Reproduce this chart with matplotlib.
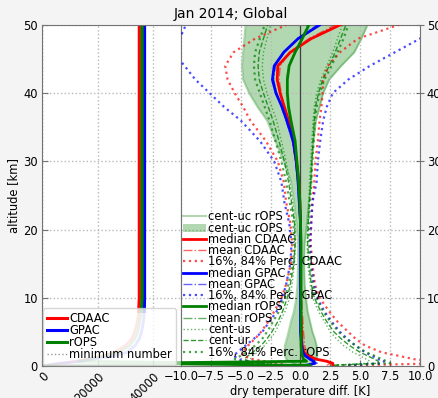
import matplotlib
matplotlib.use('Agg')
import matplotlib.pyplot as plt
from matplotlib.ticker import MultipleLocator
from matplotlib.patches import Patch
from matplotlib.lines import Line2D
import numpy as np

# altitude levels [km]
z = np.array([0.1, 0.4, 0.7, 1, 1.5, 2, 3, 4, 5, 6.5, 8, 10, 12, 15, 18, 21,
              24, 27, 30, 33, 36, 38, 40, 42, 44, 46, 48, 50])

# number of profiles per level
n_cdaac = [2500, 7500, 12000, 16000, 21500, 26000, 30000, 32300, 33300, 34300, 34800, 35000, 35000, 35000,
           35000, 35000, 35000, 35000, 35000, 35000, 35000, 35000, 35000, 35000, 35000, 35000, 35000, 35000]
n_gpac = [1500, 6000, 14500, 18500, 26000, 30500, 33500, 35000, 35800, 36500, 36800, 36900, 36900, 36900,
          36900, 36900, 36900, 36900, 36900, 36900, 36900, 36900, 36900, 36900, 36900, 36900, 36900, 36900]
n_rops = [1000, 70000, 13000, 17000, 22500, 27500, 31500, 33400, 34400, 35200, 35700, 36000, 36000, 36000,
          36000, 36000, 36000, 36000, 36000, 36000, 36000, 36000, 36000, 36000, 36000, 36000, 36000, 36000]
min_number = 0

# dry temperature differences [K]
med_cdaac = [2.7, 2.7, 2.2, 1.3, 0.6, 0.3, 0.15, 0.1, 0.1, 0.05, 0.0, 0.0, 0.0, 0.0, 0.0, 0.0,
             -0.05, -0.15, -0.35, -0.6, -1.0, -1.35, -1.7, -1.95, -1.9, -0.85, 0.9, 3.3]
mean_cdaac = [2.2, 2.5, 2.0, 1.4, 0.8, 0.5, 0.35, 0.3, 0.25, 0.2, 0.15, 0.1, 0.05, 0.0, 0.0, 0.0,
              -0.1, -0.2, -0.4, -0.65, -1.1, -1.4, -1.6, -1.8, -1.7, -0.9, 0.7, 2.9]
p16_cdaac = [-1.0, -2.0, -3.0, -4.0, -4.8, -4.9, -4.4, -3.8, -3.3, -2.7, -2.2, -1.6, -1.2, -0.8, -0.7, -0.85,
             -1.2, -1.4, -1.9, -2.9, -4.2, -4.8, -5.5, -6.1, -6.3, -5.6, -3.8, -1.2]
p84_cdaac = [4.0, 12.0, 11.0, 9.5, 8.2, 6.8, 5.4, 4.6, 4.0, 3.1, 2.4, 1.6, 1.2, 1.0, 0.85, 0.9,
             1.0, 1.15, 1.25, 1.45, 1.6, 1.75, 1.85, 1.9, 2.3, 3.3, 4.8, 8.2]

med_gpac = [0.5, 1.2, 1.1, 0.8, 0.4, 0.2, 0.1, 0.05, 0.0, 0.0, 0.0, 0.0, 0.0, 0.0, 0.0, 0.0,
            -0.1, -0.2, -0.35, -0.6, -1.15, -1.55, -2.05, -2.35, -2.2, -1.4, -0.2, 1.6]
mean_gpac = [0.8, 1.4, 1.2, 0.9, 0.5, 0.3, 0.15, 0.1, 0.05, 0.05, 0.0, 0.0, 0.0, 0.0, 0.0, -0.05,
             -0.15, -0.25, -0.4, -0.7, -1.2, -1.6, -2.0, -2.25, -2.1, -1.35, -0.25, 1.4]
p16_gpac = [-2.5, -3.5, -4.5, -5.2, -5.6, -5.3, -4.6, -3.9, -3.2, -2.6, -2.0, -1.5, -1.2, -0.85, -0.75, -0.95,
            -1.35, -1.6, -2.2, -3.4, -5.0, -6.4, -7.6, -8.8, -9.7, -10.6, -10.1, -9.6]
p84_gpac = [4.0, 6.8, 7.0, 6.5, 6.0, 5.4, 4.6, 3.9, 3.3, 2.6, 2.0, 1.4, 1.1, 0.9, 0.8, 0.9,
            1.0, 1.35, 1.45, 1.65, 1.9, 2.2, 2.7, 4.0, 5.8, 7.9, 10.0, 11.5]

med_rops = [0.8, -15.0, 0.5, 0.25, 0.15, 0.1, 0.05, 0.05, 0.05, 0.05, 0.05, 0.05, 0.05, 0.05, 0.05, 0.0,
            -0.05, -0.15, -0.3, -0.45, -0.8, -1.0, -1.1, -1.1, -0.95, -0.45, 0.15, 0.7]
mean_rops = [0.6, -13.0, 0.4, 0.3, 0.2, 0.15, 0.1, 0.1, 0.1, 0.1, 0.05, 0.05, 0.05, 0.05, 0.05, 0.0,
             -0.05, -0.2, -0.35, -0.5, -0.85, -1.05, -1.15, -1.15, -1.0, -0.5, 0.1, 0.6]
p16_rops = [-2.0, -4.0, -5.0, -5.5, -5.0, -4.5, -3.8, -3.2, -2.8, -2.3, -1.8, -1.3, -1.0, -0.6, -0.5, -0.6,
            -0.9, -1.2, -1.6, -2.1, -2.6, -3.0, -3.4, -3.8, -3.9, -3.8, -3.4, -3.0]
p84_rops = [3.0, 7.5, 7.2, 6.8, 6.2, 5.5, 4.6, 3.8, 3.2, 2.5, 1.9, 1.3, 1.0, 0.8, 0.7, 0.7,
            0.8, 0.9, 1.0, 1.1, 1.2, 1.35, 1.6, 2.0, 2.6, 3.1, 3.6, 4.0]
centus_lo = [-1.5, -3.0, -3.8, -4.2, -4.0, -3.6, -3.0, -2.5, -2.1, -1.7, -1.3, -0.9, -0.7, -0.5, -0.4, -0.45,
             -0.65, -0.9, -1.2, -1.6, -2.0, -2.4, -2.8, -3.1, -3.2, -3.1, -2.8, -2.5]
centus_hi = [2.5, 5.5, 5.8, 5.5, 5.0, 4.4, 3.6, 3.0, 2.5, 2.0, 1.5, 1.0, 0.8, 0.6, 0.55, 0.6,
             0.7, 0.75, 0.85, 0.95, 1.05, 1.15, 1.35, 1.7, 2.2, 2.7, 3.1, 3.5]
centur_lo = [-1.8, -3.5, -4.3, -4.7, -4.4, -4.0, -3.3, -2.8, -2.4, -1.9, -1.5, -1.1, -0.85, -0.55, -0.45, -0.5,
             -0.75, -1.0, -1.35, -1.8, -2.3, -2.7, -3.1, -3.45, -3.55, -3.45, -3.1, -2.75]
centur_hi = [2.8, 6.5, 6.5, 6.2, 5.6, 5.0, 4.1, 3.4, 2.8, 2.2, 1.7, 1.15, 0.9, 0.7, 0.6, 0.65,
             0.75, 0.85, 0.95, 1.05, 1.15, 1.25, 1.5, 1.85, 2.4, 2.9, 3.35, 3.8]
centuc_lo = [-0.3, -0.6, -1.0, -1.2, -1.3, -1.35, -1.3, -1.15, -1.0, -0.8, -0.55, -0.35, -0.25, -0.2, -0.2, -0.35,
             -0.55, -0.8, -1.4, -2.1, -2.8, -3.6, -4.3, -4.8, -4.9, -4.8, -4.7, -4.6]
centuc_hi = [0.8, 1.0, 1.2, 1.35, 1.4, 1.4, 1.35, 1.2, 1.0, 0.8, 0.6, 0.45, 0.35, 0.3, 0.35, 0.55,
             0.7, 0.9, 0.95, 1.1, 1.3, 1.6, 1.9, 2.4, 3.4, 4.5, 5.1, 5.6]

plt.rcParams['font.family'] = 'DejaVu Sans'
plt.rcParams['font.size'] = 8.3

fig = plt.figure(figsize=(4.39, 3.98), dpi=100, facecolor='#f4f4f4')
ax_n = fig.add_axes([0.0957, 0.0804, 0.3166, 0.8568])
ax_t = fig.add_axes([0.4123, 0.0804, 0.5444, 0.8568])

spine_col = '0.45'
grid_kw = dict(color='0.72', linestyle=':', linewidth=1.0)

# ---- left panel: number of profiles
upper = z >= 8
for vals, col in [(n_cdaac, 'red'), (n_gpac, 'blue'), (n_rops, 'green')]:
    vals = np.array(vals)
    ax_n.plot(vals, z, color=col, lw=2, alpha=0.45)
    ax_n.plot(vals[upper], z[upper], color=col, lw=2.2)
ax_n.axvline(min_number, color='0.6', ls=':', lw=1)

ax_n.set_xlim(0, 50000)
ax_n.set_ylim(0, 50)
ax_n.set_xticks([0, 20000, 40000])
ax_n.set_xticklabels(['0', '20000', '40000'], rotation=45, ha='right', rotation_mode='anchor')
ax_n.set_yticks(range(0, 51, 10))
ax_n.set_ylabel('altitude [km]', labelpad=2)
ax_n.grid(True, **grid_kw)
ax_n.tick_params(direction='in', length=4, color=spine_col, pad=3)
for s in ax_n.spines.values():
    s.set_color(spine_col)

h_n = [Line2D([], [], color='red', lw=2.2), Line2D([], [], color='blue', lw=2.2),
       Line2D([], [], color='green', lw=2.2), Line2D([], [], color='0.6', ls=':', lw=1)]
ax_n.legend(h_n, ['CDAAC', 'GPAC', 'rOPS', 'minimum number'], loc='lower left',
            borderaxespad=0.1, borderpad=0.35, handlelength=1.75, handletextpad=0.15,
            labelspacing=-0.1, framealpha=0.8, edgecolor='0.8', fancybox=True)

# ---- right panel: dry temperature differences
ax_t.fill_betweenx(z, centuc_lo, centuc_hi, color='green', alpha=0.3, lw=0, zorder=1)
ax_t.plot(centuc_lo, z, color='green', alpha=0.3, lw=1.5, zorder=1)
ax_t.plot(centuc_hi, z, color='green', alpha=0.3, lw=1.5, zorder=1)
ax_t.axvline(0, color='0.25', lw=0.9, zorder=2)

ax_t.plot(centus_lo, z, color='green', ls=':', lw=1, alpha=0.6, zorder=3)
ax_t.plot(centus_hi, z, color='green', ls=':', lw=1, alpha=0.6, zorder=3)
ax_t.plot(centur_lo, z, color='green', ls='--', lw=1, alpha=0.8, zorder=3)
ax_t.plot(centur_hi, z, color='green', ls='--', lw=1, alpha=0.8, zorder=3)

series = [(med_cdaac, mean_cdaac, p16_cdaac, p84_cdaac, 'red'),
          (med_gpac, mean_gpac, p16_gpac, p84_gpac, 'blue'),
          (med_rops, mean_rops, p16_rops, p84_rops, 'green')]
for med, mean, p16, p84, col in series:
    ax_t.plot(p16, z, color=col, ls=':', lw=1.6, alpha=0.7, zorder=4)
    ax_t.plot(p84, z, color=col, ls=':', lw=1.6, alpha=0.7, zorder=4)
    ax_t.plot(mean, z, color=col, ls='-.', lw=1, alpha=0.6, zorder=5)
for med, mean, p16, p84, col in series:
    ax_t.plot(med, z, color=col, lw=2, zorder=6)

ax_t.set_xlim(-10, 10)
ax_t.set_ylim(0, 50)
ax_t.xaxis.set_major_locator(MultipleLocator(2.5))
ax_t.set_yticks(range(0, 51, 10))
ax_t.yaxis.tick_right()
ax_t.set_xlabel('dry temperature diff. [K]', labelpad=1)
ax_t.grid(True, **grid_kw)
ax_t.tick_params(axis='x', direction='in', length=4, color=spine_col, pad=3)
ax_t.tick_params(axis='y', direction='inout', length=6, color=spine_col, pad=2)
for s in ax_t.spines.values():
    s.set_color(spine_col)

h_t = [Line2D([], [], color='green', alpha=0.3, lw=1.5),
       Patch(facecolor='green', alpha=0.3, lw=0),
       Line2D([], [], color='red', lw=2),
       Line2D([], [], color='red', ls='-.', lw=1, alpha=0.6),
       Line2D([], [], color='red', ls=':', lw=1.6, alpha=0.7),
       Line2D([], [], color='blue', lw=2),
       Line2D([], [], color='blue', ls='-.', lw=1, alpha=0.6),
       Line2D([], [], color='blue', ls=':', lw=1.6, alpha=0.7),
       Line2D([], [], color='green', lw=2),
       Line2D([], [], color='green', ls='-.', lw=1, alpha=0.6),
       Line2D([], [], color='green', ls=':', lw=1, alpha=0.6),
       Line2D([], [], color='green', ls='--', lw=1, alpha=0.8),
       Line2D([], [], color='green', ls=':', lw=1.6, alpha=0.7)]
l_t = ['cent-uc rOPS', 'cent-uc rOPS', 'median CDAAC', 'mean CDAAC', '16%, 84% Perc. CDAAC',
       'median GPAC', 'mean GPAC', '16%, 84% Perc. GPAC', 'median rOPS', 'mean rOPS',
       'cent-us', 'cent-ur', '16%, 84% Perc. rOPS']
ax_t.legend(h_t, l_t, loc='lower left', bbox_to_anchor=(0.0, 0.015), frameon=False,
            borderaxespad=0.0, borderpad=0.2, handlelength=2.0, handletextpad=0.15,
            labelspacing=-0.15)

fig.text(0.526, 0.948, 'Jan 2014; Global', ha='center', va='bottom', fontsize=10)

fig.savefig('out.png', dpi=100, facecolor=fig.get_facecolor())
